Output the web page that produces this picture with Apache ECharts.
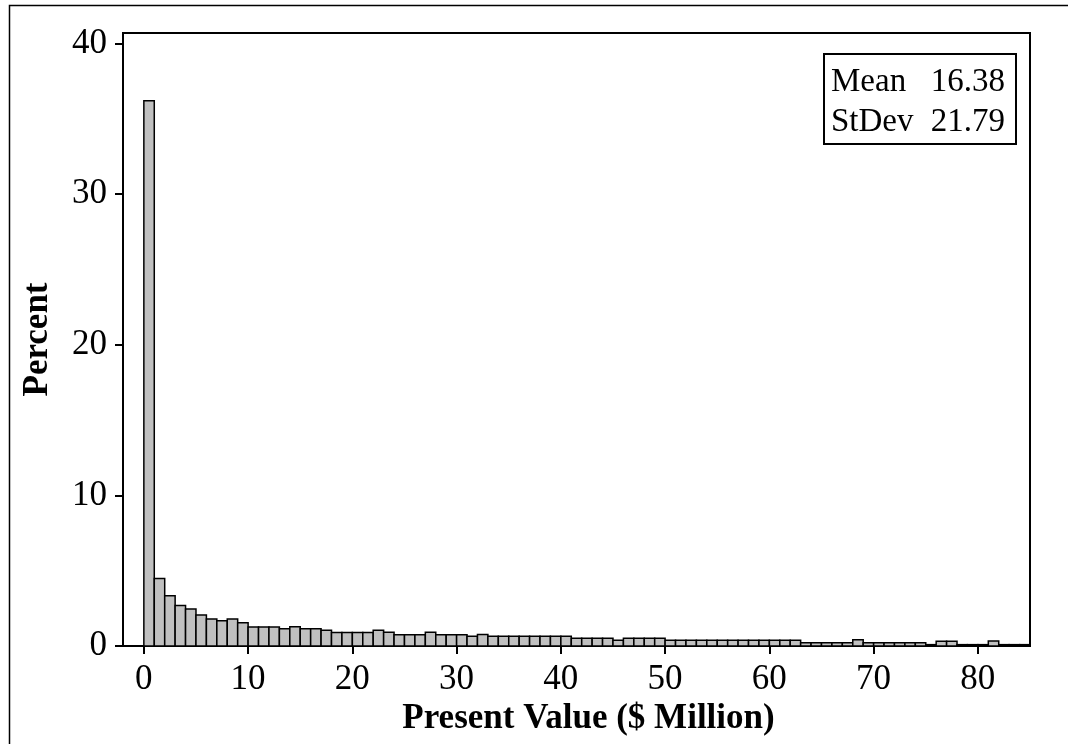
<!DOCTYPE html>
<html>
<head>
<meta charset="utf-8">
<script src="https://cdn.jsdelivr.net/npm/echarts@6/dist/echarts.min.js"></script>
<style>
html,body{margin:0;padding:0;background:#fff;}
#chart{width:1068px;height:744px;}
</style>
</head>
<body>
<div id="chart"></div>
<script>
// Histogram bins: each bin is [binStarts[i], binStarts[i] + binWidth)
const binWidth = 1;
const binStarts = [
  0,1,2,3,4,5,6,7,8,9,10,11,12,13,14,15,16,17,18,19,20,
  21,22,23,24,25,26,27,28,29,30,31,32,33,34,35,36,37,38,39,40,
  41,42,43,44,45,46,47,48,49,50,51,52,53,54,55,56,57,58,59,60,
  61,62,63,64,65,66,67,68,69,70,71,72,73,74,75,76,77,78,79,80,
  81,82,83,84
];
// Percent per bin
const percentValues = [
  36.2, 4.48, 3.33, 2.69, 2.45, 2.05, 1.79, 1.68, 1.79, 1.54,
  1.26, 1.26, 1.26, 1.15, 1.28, 1.15, 1.15, 1.04, 0.90, 0.90,
  0.90, 0.90, 1.04, 0.92, 0.75, 0.75, 0.75, 0.92, 0.75, 0.75,
  0.75, 0.64, 0.77, 0.64, 0.64, 0.64, 0.64, 0.64, 0.64, 0.64,
  0.64, 0.51, 0.51, 0.51, 0.51, 0.38, 0.51, 0.51, 0.51, 0.51,
  0.38, 0.38, 0.38, 0.38, 0.38, 0.38, 0.38, 0.38, 0.38, 0.38,
  0.38, 0.38, 0.38, 0.22, 0.22, 0.22, 0.22, 0.22, 0.42, 0.22,
  0.22, 0.22, 0.22, 0.22, 0.22, 0.09, 0.31, 0.31, 0.09, 0.09,
  0.09, 0.33, 0.09, 0.09, 0.09
];
const xTickValues = [0, 10, 20, 30, 40, 50, 60, 70, 80];
const yTickValues = [0, 10, 20, 30, 40];
const statLabels = ['Mean', 'StDev'];
const statValues = ['16.38', '21.79'];
const xTitle = 'Present Value ($ Million)';
const yTitle = 'Percent';

const FONT = '"Liberation Serif", "Times New Roman", serif';
const histData = binStarts.map((s, i) => [s, s + binWidth, percentValues[i]]);

const chart = echarts.init(document.getElementById('chart'), null, {renderer: 'canvas'});

const statGraphics = [];
statLabels.forEach((lab, i) => {
  statGraphics.push({
    type: 'text', left: 831, top: 66 + i * 40,
    style: {text: lab, font: '33px ' + FONT, fill: '#000'}
  });
  statGraphics.push({
    type: 'text', right: 63, top: 66 + i * 40,
    style: {text: statValues[i], font: '33px ' + FONT, fill: '#000', align: 'right'}
  });
});

chart.setOption({
  backgroundColor: '#fff',
  animation: false,
  grid: {
    left: 123, top: 33, right: 38, bottom: 98,
    show: true, borderColor: '#000', borderWidth: 2
  },
  xAxis: {
    type: 'value', min: -2, max: 85,
    name: xTitle, nameLocation: 'middle', nameGap: 62,
    nameTextStyle: {fontFamily: FONT, fontSize: 35, fontWeight: 'bold', color: '#000',
      verticalAlign: 'middle', padding: [0, 0, 0, 24]},
    axisLine: {show: true, onZero: false, lineStyle: {color: '#000', width: 2}},
    axisTick: {show: true, length: 8, inside: false, customValues: xTickValues,
      lineStyle: {color: '#000', width: 2}},
    axisLabel: {customValues: xTickValues, margin: 16, fontFamily: FONT, fontSize: 35, color: '#000'},
    splitLine: {show: false}
  },
  yAxis: {
    type: 'value', min: 0, max: 40.7,
    name: yTitle, nameLocation: 'middle', nameGap: 85, nameRotate: 90,
    nameTextStyle: {fontFamily: FONT, fontSize: 35, fontWeight: 'bold', color: '#000',
      verticalAlign: 'middle'},
    axisLine: {show: true, onZero: false, lineStyle: {color: '#000', width: 2}},
    axisTick: {show: true, length: 8, inside: false, customValues: yTickValues,
      lineStyle: {color: '#000', width: 2}},
    axisLabel: {customValues: yTickValues, margin: 16, fontFamily: FONT, fontSize: 35, color: '#000'},
    splitLine: {show: false}
  },
  series: [{
    type: 'custom',
    clip: true,
    encode: {x: [0, 1], y: 2},
    data: histData,
    renderItem: function (params, api) {
      const p0 = api.coord([api.value(0), api.value(2)]);
      const p1 = api.coord([api.value(1), 0]);
      return {
        type: 'rect',
        shape: {x: p0[0], y: p0[1], width: p1[0] - p0[0], height: p1[1] - p0[1]},
        style: {fill: '#c0c0c0', stroke: '#000', lineWidth: 1.5}
      };
    }
  }],
  graphic: [
    {type: 'polyline', silent: true,
      shape: {points: [[9.5, 760], [9.5, 5.5], [1080, 5.5]]},
      style: {fill: 'none', stroke: '#000', lineWidth: 1.5}},
    {type: 'rect', left: 823, top: 53, shape: {x: 0, y: 0, width: 192, height: 90},
      style: {fill: '#fff', stroke: '#000', lineWidth: 2}, z: 10}
  ].concat(statGraphics.map(g => Object.assign(g, {z: 11})))
});
</script>
</body>
</html>
